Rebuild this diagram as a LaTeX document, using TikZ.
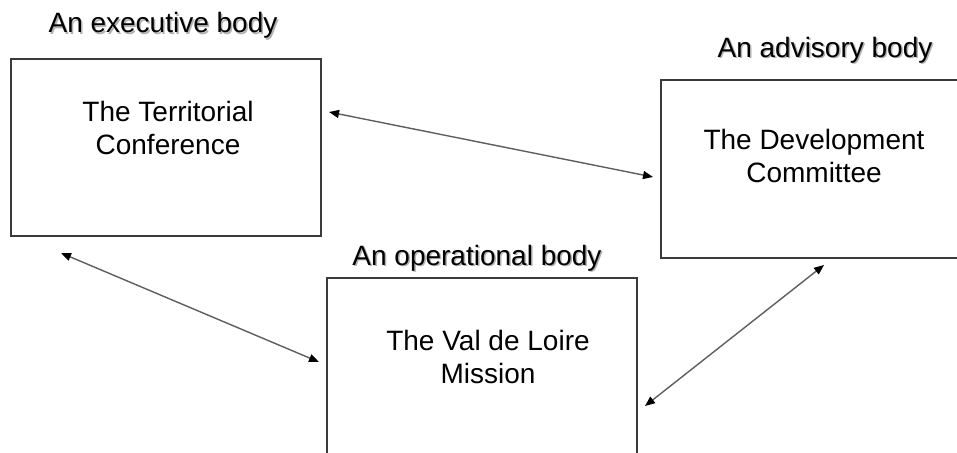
\documentclass[tikz,border=0pt]{standalone}
\usepackage{fontspec}
\setmainfont{Liberation Sans}
\usetikzlibrary{arrows.meta}
\definecolor{boxc}{HTML}{3A3A3A}
\definecolor{arrc}{HTML}{5E5E5E}
\begin{document}
\begin{tikzpicture}[x=1pt,y=-1pt,
  box/.style={draw=boxc, line width=1.6pt, inner sep=0pt, fill=none},
  body/.style={font=\fontsize{28}{33}\selectfont, align=center, inner sep=0pt, text=black},
  lbl/.style={font=\fontsize{28}{32}\selectfont, anchor=base, inner sep=0pt, text=black},
  shadow/.style={font=\fontsize{28}{32}\selectfont, anchor=base, inner sep=0pt, text=black!30},
  link/.style={draw=arrc, line width=1.4pt,
    {Triangle[length=10pt,width=8pt,color=black]}-{Triangle[length=10pt,width=8pt,color=black]}}]
\useasboundingbox (0,0) rectangle (957,452);
\fill[white] (0,0) rectangle (957,452);
\clip (0,0) rectangle (957,452);
% boxes
\node[box, minimum width=310pt, minimum height=177pt] (conf) at (166,147.5) {};
\node[box, minimum width=310pt, minimum height=178pt] (dev) at (816,169) {};
\node[box, minimum width=310pt, minimum height=180pt] (mission) at (482,368) {};
% box texts
\node[body] (conftxt) at (168,128) {The Territorial\\Conference};
\node[body] (devtxt) at (814,156) {The Development\\Committee};
\node[body] (missiontxt) at (488,357) {The Val de Loire\\Mission};
% labels with shadow
\node[shadow] (execsh) at (164.5,34.5) {An executive body};
\node[lbl] (exec) at (163,33) {An executive body};
\node[shadow] (advsh) at (826.5,58.5) {An advisory body};
\node[lbl] (adv) at (825,57) {An advisory body};
\node[shadow] (opsh) at (478.5,266.5) {An operational body};
\node[lbl] (op) at (477,265) {An operational body};
% connectors
\coordinate (a1) at (329,112);
\coordinate (a2) at (653,177);
\coordinate (b1) at (61,253);
\coordinate (b2) at (319,362);
\coordinate (c1) at (824,265);
\coordinate (c2) at (645,406);
\draw[link] (a1) -- (a2);
\draw[link] (b1) -- (b2);
\draw[link] (c1) -- (c2);
\end{tikzpicture}
\end{document}
